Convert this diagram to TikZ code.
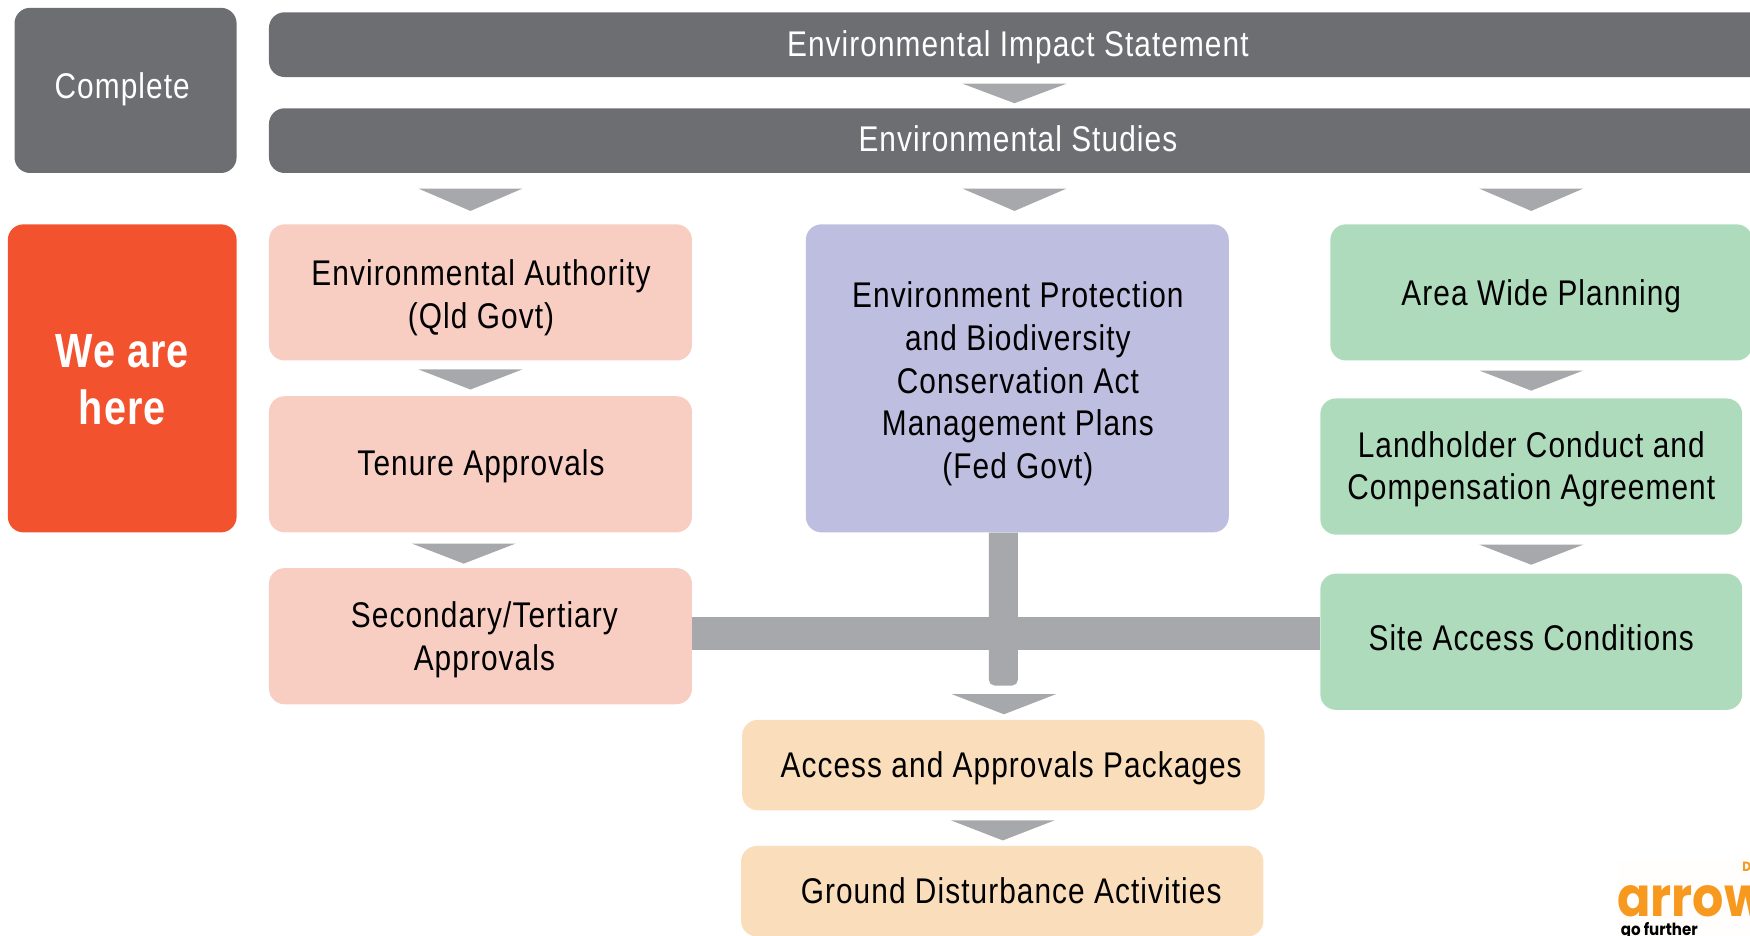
\documentclass[tikz,border=0pt]{standalone}
\usepackage{fontspec}
\setmainfont[FakeStretch=0.835,LetterSpace=3]{Liberation Sans}
\newfontfamily\herefont[FakeStretch=0.825,LetterSpace=2]{Liberation Sans Bold}
\newfontfamily\logofont[FakeStretch=0.9]{Poppins}
\definecolor{darkgrey}{HTML}{6D6E71}
\definecolor{arrowgrey}{HTML}{A7A8AB}
\definecolor{hereorange}{HTML}{F2522E}
\definecolor{pinkbox}{HTML}{F8CEC3}
\definecolor{lavbox}{HTML}{BEBEE0}
\definecolor{greenbox}{HTML}{AFDBBD}
\definecolor{peachbox}{HTML}{FADDBB}
\definecolor{logoorange}{HTML}{F7981F}
\newcommand{\lbl}{\fontsize{32}{38.4}\selectfont}
\newcommand{\st}{\rule[-5pt]{0pt}{33pt}}
\tikzset{
  x=1pt,y=-1pt,
  card/.style={rounded corners=14pt,inner sep=0pt},
  cardtext/.style={inner sep=0pt,align=center,font=\lbl,text=black},
  lighttext/.style={cardtext,text=white},
  chev/.style={fill=arrowgrey},
}
% fill colour, text style, name, x1,y1,x2,y2, text centre (x,y), text
\newcommand{\boxat}[9]{%
  \node[card,fill=#1,minimum width=#5pt-#3pt,minimum height=#6pt-#4pt] (#2) at ({(#3+#5)/2},{(#4+#6)/2}) {};
  \boxtext{#2}{#7}{#8}{#9}}
\newcommand{\boxtext}[4]{\node[#2] (#1t) at (#3) {\st #4\st};}
\newcommand{\chevat}[4]{% name, x centre, y top, height
  \coordinate (#1) at (#2,#3);
  \fill[chev] (#1) ++(-46.5,0) -- ++(93,0) -- ++(-46.5,#4) -- cycle;}
\begin{document}
\begin{tikzpicture}
\useasboundingbox (0,0) rectangle (1568,838.6);
\clip (0,0) rectangle (1568,838.6);
\boxat{darkgrey}{complete}{13}{7}{212}{155}{lighttext}{109.5,78}{Complete}
\boxat{darkgrey}{eis}{241}{11}{1583}{69}{lighttext}{912,40}{Environmental Impact Statement}
\boxat{darkgrey}{studies}{241}{97}{1583}{155}{lighttext}{912,124.5}{Environmental Studies}
\node[card,fill=hereorange,minimum width=205pt,minimum height=276pt] (here) at (109.5,339) {};
\node[inner sep=0pt,align=center,text=white,font=\herefont\fontsize{43}{51}\selectfont] (heret) at (109.5,341) {\rule[-5pt]{0pt}{37pt}We are\\here\rule[-5pt]{0pt}{37pt}};
\boxat{pinkbox}{ea}{241}{201}{620}{323}{cardtext}{431,264.5}{Environmental Authority\\(Qld Govt)}
\boxat{pinkbox}{tenure}{241}{355}{620}{477}{cardtext}{431,415}{Tenure Approvals}
\boxat{pinkbox}{sec}{241}{509}{620}{631}{cardtext}{434,571}{Secondary/Tertiary\\Approvals}
\boxat{lavbox}{epbc}{722}{201}{1101}{477}{cardtext}{912,341.5}{Environment Protection\\and Biodiversity\\Conservation Act\\Management Plans\\(Fed Govt)}
\boxat{greenbox}{area}{1192}{201}{1570}{323}{cardtext}{1381,263}{Area Wide Planning}
\boxat{greenbox}{land}{1183}{357}{1561}{479}{cardtext}{1372,418}{Landholder Conduct and\\Compensation Agreement}
\boxat{greenbox}{site}{1183}{514}{1561}{636}{cardtext}{1372,571.5}{Site Access Conditions}
\boxat{peachbox}{access}{665}{645}{1133}{726}{cardtext}{906,686}{Access and Approvals Packages}
\boxat{peachbox}{ground}{664}{758}{1132}{839}{cardtext}{906,798}{Ground Disturbance Activities}
% junction bars
\coordinate (barl) at (sec.east |- 0,567.5);
\coordinate (barr) at (site.west |- 0,567.5);
\coordinate (dropend) at (899,614);
\coordinate (droptop) at (epbc.south -| dropend);
\draw[arrowgrey,line width=29pt] (barl) -- (barr);
\fill[arrowgrey] (droptop) ++(-13,0) -- ++(26,0) [rounded corners=5pt] -- ++(0,137) -- ++(-26,0) [sharp corners] -- cycle;
% arrowheads
\chevat{a1}{909}{75}{17.5}
\chevat{a2}{421.5}{169}{20}
\chevat{a3}{909}{169}{20}
\chevat{a4}{1372}{169}{20}
\chevat{a5}{421.5}{331}{18}
\chevat{a6}{415.5}{487}{18}
\chevat{a7}{1372}{332}{18}
\chevat{a8}{1372}{488}{18}
\chevat{a9}{899.5}{622}{18}
\chevat{a10}{898.5}{735}{18}
% logo
\fill[white!99!orange] (1450,770) rectangle (1568,839);
\node[anchor=base west,inner sep=0pt,text=logoorange,font=\logofont\fontsize{49}{49}\selectfont\bfseries] (logo) at (1449,821.5) {arrow};
\node[anchor=base west,inner sep=0pt,text=black,font=\logofont\fontsize{15}{15}\selectfont\bfseries] (tag) at (1452,838) {go further};
\node[anchor=base west,inner sep=0pt,text=logoorange,font=\logofont\fontsize{12}{12}\selectfont\bfseries] (logod) at (1561,781) {D};
\end{tikzpicture}
\end{document}
